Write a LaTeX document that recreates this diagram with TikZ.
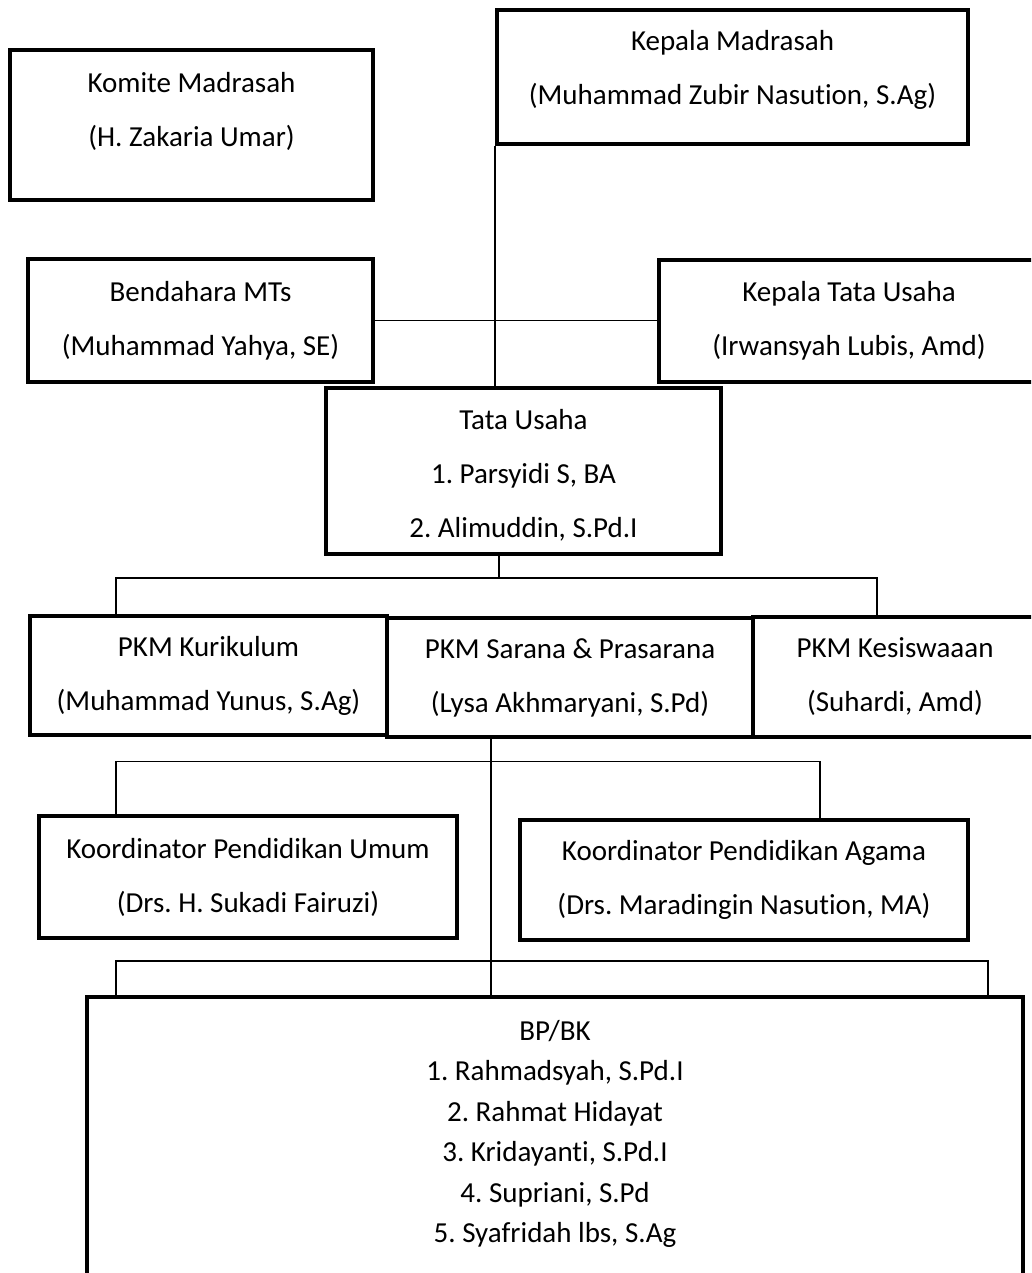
\documentclass[tikz,border=0pt]{standalone}
\usepackage{fontspec}
\setmainfont{Carlito}[Ligatures=NoCommon]
\usepackage{tikz}
\usetikzlibrary{positioning}
\frenchspacing

\begin{document}
\begin{tikzpicture}[
x=1pt,y=-1pt,
unit/.style={draw,line width=4.5pt,align=center,inner sep=2pt,
font=\fontsize{29}{54}\selectfont},
label/.style={align=center,inner sep=0pt,font=\fontsize{29}{54}\selectfont},
conn/.style={line width=1.5pt}
]
\useasboundingbox (0,0) rectangle (1031,1273);
\clip (0,0) rectangle (1031,1273);

\node[unit,minimum width=363,minimum height=150] (komite) at (191.5,125) {};
\node[label] (komitetxt) at (191.5,111) {Komite Madrasah\\(H. Zakaria Umar)};
\node[unit,minimum width=471,minimum height=134] (kepala) at (732.5,77) {};
\node[label] (kepalatxt) at (732.5,70) {Kepala Madrasah\\(Muhammad Zubir Nasution, S.Ag)};

\node[unit,minimum width=345,minimum height=123] (bendahara) at (200.5,320.5)
  {Bendahara MTs\\(Muhammad Yahya, SE)};
\node[unit,minimum width=380,minimum height=122] (kepalatu) at (849,321)
  {Kepala Tata Usaha\\(Irwansyah Lubis, Amd)};
\node[unit,minimum width=395,minimum height=166] (tu) at (523.5,471) {};
\node[label] (tutxt) at (523.5,475) {Tata Usaha\\1. Parsyidi S, BA\\2. Alimuddin, S.Pd.I};

\node[unit,minimum width=357,minimum height=119] (kurikulum) at (208.5,675.5)
  {PKM Kurikulum\\(Muhammad Yunus, S.Ag)};
\node[unit,minimum width=366,minimum height=119] (sarana) at (570,677.5)
  {PKM Sarana \& Prasarana\\(Lysa Akhmaryani, S.Pd)};
\node[unit,minimum width=284,minimum height=120] (kesiswaan) at (895,677)
  {PKM Kesiswaaan\\(Suhardi, Amd)};

\node[unit,minimum width=418,minimum height=122] (umum) at (248,877)
  {Koordinator Pendidikan Umum\\(Drs. H. Sukadi Fairuzi)};
\node[unit,minimum width=448,minimum height=120] (agama) at (744,880)
  {Koordinator Pendidikan Agama\\(Drs. Maradingin Nasution, MA)};

\node[unit,minimum width=936,minimum height=320] (bpbk) at (555,1157) {};
\node[label,font=\fontsize{29}{40.5}\selectfont] (bpbktxt) at (555,1134)
  {BP/BK\\1. Rahmadsyah, S.Pd.I\\2. Rahmat Hidayat\\3. Kridayanti, S.Pd.I\\
   4. Supriani, S.Pd\\5. Syafridah lbs, S.Ag};

% connectors
\coordinate (tub) at (499,578);
\coordinate (l1) at (116,578);  \coordinate (r1) at (877,578);
\coordinate (sab) at (491,761.5);
\coordinate (l2) at (116,761.5); \coordinate (r2) at (820,761.5);
\coordinate (l3) at (116,961);  \coordinate (r3) at (988,961);

\draw[conn] (kepala.south west) -- (kepala.south west |- tu.north);
\draw[conn] (bendahara.east) -- (bendahara.east -| kepalatu.west);
\draw[conn] (tu.south -| tub) -- (tub);
\draw[conn] (kurikulum.north -| l1) |- (r1) -- (kesiswaan.north -| r1);
\draw[conn] (sarana.south -| sab) -- (sab |- bpbk.north);
\draw[conn] (umum.north -| l2) |- (r2) -- (agama.north -| r2);
\draw[conn] (bpbk.north -| l3) |- (r3) -- (bpbk.north -| r3);
\end{tikzpicture}
\end{document}
